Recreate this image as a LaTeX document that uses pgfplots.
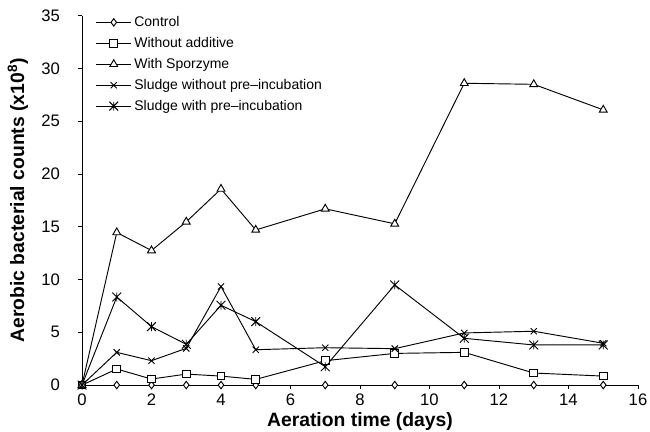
\documentclass[border=0pt]{standalone}
\usepackage{pgfplots}
\pgfplotsset{compat=1.18}
\usepackage{fontspec}
\setmainfont{Liberation Sans}
\pgfdeclareplotmark{xbar}{%
  \pgfpathmoveto{\pgfqpoint{-\pgfplotmarksize}{-\pgfplotmarksize}}%
  \pgfpathlineto{\pgfqpoint{\pgfplotmarksize}{\pgfplotmarksize}}%
  \pgfpathmoveto{\pgfqpoint{-\pgfplotmarksize}{\pgfplotmarksize}}%
  \pgfpathlineto{\pgfqpoint{\pgfplotmarksize}{-\pgfplotmarksize}}%
  \pgfpathmoveto{\pgfqpoint{0pt}{-\pgfplotmarksize}}%
  \pgfpathlineto{\pgfqpoint{0pt}{\pgfplotmarksize}}%
  \pgfusepathqstroke}
\begin{document}
\begin{tikzpicture}
\path[use as bounding box] (-61.5pt,-34.5pt) rectangle (426pt,288.8pt);
\begin{axis}[
  at={(0pt,0pt)}, anchor=south west,
  scale only axis,
  width=417pt, height=277pt,
  xmin=0, xmax=16, ymin=0, ymax=35,
  axis lines=left,
  axis line style={-, line width=0.7pt},
  xtick={0,2,...,16}, ytick={0,5,...,35},
  tick align=outside, tick style={black, line width=0.7pt},
  major tick length=3pt,
  /pgf/number format/assume math mode=true,
  tick label style={font=\fontsize{12.5}{14}\selectfont},
  yticklabel style={xshift=-10pt},
  xticklabel style={yshift=0pt},
  xlabel={\fontsize{14.5}{16}\selectfont\bfseries Aeration time (days)},
  ylabel={\fontsize{14.5}{16}\selectfont\bfseries Aerobic bacterial counts (x10$^{\mathbf{8}}$)},
  every axis x label/.style={at={(axis description cs:0.5,0)}, yshift=-27.3pt, anchor=center},
  every axis y label/.style={at={(axis description cs:-0.1151,0.5)}, rotate=90, anchor=center},
  clip=false,
  every axis plot/.append style={black, line width=0.7pt, mark options={solid, fill=white, line width=0.7pt}},
  legend style={draw=none, fill=none, at={(0.022,1.01)}, anchor=north west, font=\fontsize{10.5}{12}\selectfont, row sep=2.6pt, cells={anchor=west}, inner sep=1pt},
  legend image code/.code={\draw[mark repeat=2,mark phase=2] plot coordinates {(0cm,0cm) (0.46cm,0cm) (0.92cm,0cm)};},
]
\addplot[mark=diamond*, mark size=2.8pt] coordinates {(0,0) (1,0) (2,0) (3,0) (4,0) (5,0) (7,0) (9,0) (11,0) (13,0) (15,0)};
\addlegendentry{Control}
\addplot[mark=square*, mark size=2.9pt] coordinates {(0,0) (1,1.52) (2,0.57) (3,1.04) (4,0.85) (5,0.54) (7,2.31) (9,3.0) (11,3.1) (13,1.14) (15,0.85)};
\addlegendentry{Without additive}
\addplot[mark=triangle*, mark size=3.4pt] coordinates {(0,0) (1,14.46) (2,12.75) (3,15.47) (4,18.58) (5,14.7) (7,16.7) (9,15.28) (11,28.6) (13,28.5) (15,26.08)};
\addlegendentry{With Sporzyme}
\addplot[mark=x, mark size=3.3pt] coordinates {(0,0) (1,3.1) (2,2.31) (3,3.48) (4,9.34) (5,3.35) (7,3.54) (9,3.45) (11,4.94) (13,5.1) (15,3.96)};
\addlegendentry{Sludge without pre\textendash incubation}
\addplot[mark=xbar, mark size=3.3pt] coordinates {(0,0) (1,8.35) (2,5.54) (3,3.86) (4,7.56) (5,6.01) (7,1.74) (9,9.49) (11,4.43) (13,3.8) (15,3.8)};
\addlegendentry{Sludge with pre\textendash incubation}
\end{axis}
\end{tikzpicture}
\end{document}
